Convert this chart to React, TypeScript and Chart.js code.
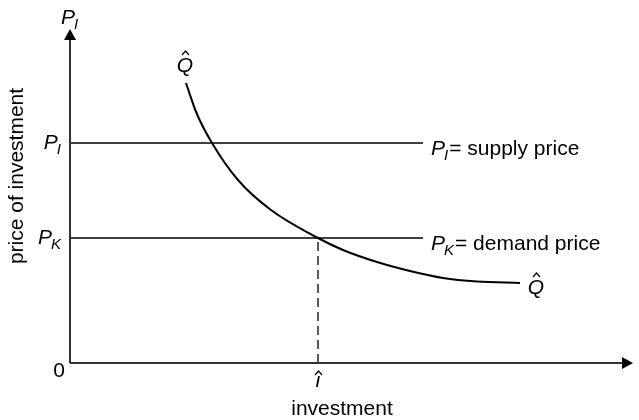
import React, { useEffect, useRef } from "react";
import { Chart, registerables } from "chart.js";

Chart.register(...registerables);

// Curve Q̂ (investment, price) in diagram units
const curveX = [116, 126.5, 142, 168, 201, 248, 273, 307, 340, 373, 407, 450];
const curveY = [280, 250, 220, 183, 153, 125, 113, 101, 92, 85, 81.5, 80];

// Horizontal price levels
const supplyPrice = 220; // P_I
const demandPrice = 125; // P_K
const priceLineEnd = 353;
const investmentHat = 248; // î

const xMax = 563;
const yMax = 334;

const yTickLabels = [
  { main: "P", sub: "I", value: supplyPrice },
  { main: "P", sub: "K", value: demandPrice },
  { main: "0", sub: "", value: 0 },
];
const lineLabels = [
  { main: "P", sub: "I", rest: "= supply price", value: supplyPrice },
  { main: "P", sub: "K", rest: "= demand price", value: demandPrice },
];
const xAxisTitle = "investment";
const yAxisTitle = "price of investment";

const FONT = "'Liberation Sans', Arial, Helvetica, sans-serif";

const diagramPlugin = {
  id: "diagram",
  afterDatasetsDraw(chart: any) {
    const ctx = chart.ctx as CanvasRenderingContext2D;
    const xs = chart.scales.x;
    const ys = chart.scales.y;
    const x0 = xs.getPixelForValue(0);
    const y0 = ys.getPixelForValue(0);
    const xEnd = xs.getPixelForValue(xMax);
    const yEnd = ys.getPixelForValue(yMax);
    ctx.save();
    // axes
    ctx.strokeStyle = "#333";
    ctx.fillStyle = "#000";
    ctx.lineWidth = 2;
    ctx.beginPath();
    ctx.moveTo(x0, y0);
    ctx.lineTo(x0, yEnd + 8);
    ctx.moveTo(x0, y0);
    ctx.lineTo(xEnd - 8, y0);
    ctx.stroke();
    ctx.beginPath();
    ctx.moveTo(x0, yEnd);
    ctx.lineTo(x0 - 6, yEnd + 11);
    ctx.lineTo(x0 + 6, yEnd + 11);
    ctx.closePath();
    ctx.fill();
    ctx.beginPath();
    ctx.moveTo(xEnd, y0);
    ctx.lineTo(xEnd - 11, y0 - 6);
    ctx.lineTo(xEnd - 11, y0 + 6);
    ctx.closePath();
    ctx.fill();

    const italic = `italic 21px ${FONT}`;
    const italicSub = `italic 15px ${FONT}`;
    const normal = `21px ${FONT}`;
    ctx.fillStyle = "#000";
    ctx.textBaseline = "alphabetic";

    const drawPSub = (main: string, sub: string, x: number, baseline: number) => {
      ctx.font = italic;
      ctx.textAlign = "left";
      ctx.fillText(main, x, baseline);
      const w = ctx.measureText(main).width;
      ctx.font = italicSub;
      ctx.fillText(sub, x + w - 1, baseline + 5);
      return x + w - 1 + ctx.measureText(sub).width;
    };

    // y tick labels
    yTickLabels.forEach((t) => {
      const py = ys.getPixelForValue(t.value);
      if (t.sub) {
        ctx.font = italic;
        const w = ctx.measureText(t.main).width;
        ctx.font = italicSub;
        const ws = ctx.measureText(t.sub).width;
        const startX = x0 - 9 - w - ws + 1;
        drawPSub(t.main, t.sub, startX, py + 6);
      } else {
        ctx.font = normal;
        ctx.textAlign = "right";
        ctx.fillText(t.main, x0 - 5, py + 14);
      }
    });

    // axis top label P_I
    drawPSub("P", "I", x0 - 9, yEnd - 5);

    // line labels
    lineLabels.forEach((l) => {
      const py = ys.getPixelForValue(l.value);
      const px = xs.getPixelForValue(priceLineEnd) + 8;
      const end = drawPSub(l.main, l.sub, px, py + 12);
      ctx.font = normal;
      ctx.textAlign = "left";
      ctx.fillText(l.rest, end + 1, py + 12);
    });

    // Q hat labels
    const drawQHat = (cx: number, baseline: number) => {
      ctx.font = italic;
      ctx.textAlign = "center";
      ctx.fillText("Q", cx, baseline);
      ctx.lineWidth = 1.2;
      ctx.strokeStyle = "#000";
      ctx.beginPath();
      ctx.moveTo(cx - 3, baseline - 17);
      ctx.lineTo(cx + 0.5, baseline - 21);
      ctx.lineTo(cx + 4, baseline - 17);
      ctx.stroke();
    };
    drawQHat(xs.getPixelForValue(curveX[0]) - 1, ys.getPixelForValue(curveY[0]) - 11);
    drawQHat(
      xs.getPixelForValue(curveX[curveX.length - 1]) + 16,
      ys.getPixelForValue(curveY[curveY.length - 1]) + 11
    );

    // i hat
    const ix = xs.getPixelForValue(investmentHat);
    ctx.font = italic;
    ctx.textAlign = "center";
    ctx.fillText("ı", ix, y0 + 24);
    ctx.lineWidth = 1.2;
    ctx.beginPath();
    ctx.moveTo(ix - 3, y0 + 12);
    ctx.lineTo(ix + 0.5, y0 + 8);
    ctx.lineTo(ix + 4, y0 + 12);
    ctx.stroke();

    // axis titles
    ctx.font = normal;
    ctx.textAlign = "center";
    ctx.fillText(xAxisTitle, ix + 24, y0 + 52);
    ctx.save();
    ctx.translate(23, (ys.getPixelForValue(yMax) + y0) / 2 - 20);
    ctx.rotate(-Math.PI / 2);
    ctx.fillText(yAxisTitle, 0, 0);
    ctx.restore();

    ctx.restore();
  },
};

export default function App() {
  const ref = useRef<HTMLCanvasElement | null>(null);
  useEffect(() => {
    if (!ref.current) return;
    const chart = new Chart(ref.current, {
      type: "line",
      data: {
        datasets: [
          {
            data: curveX.map((x, i) => ({ x, y: curveY[i] })),
            borderColor: "#000",
            borderWidth: 2,
            pointRadius: 0,
            cubicInterpolationMode: "monotone",
          },
          {
            data: [
              { x: 0, y: supplyPrice },
              { x: priceLineEnd, y: supplyPrice },
            ],
            borderColor: "#000",
            borderWidth: 1.3,
            pointRadius: 0,
          },
          {
            data: [
              { x: 0, y: demandPrice },
              { x: priceLineEnd, y: demandPrice },
            ],
            borderColor: "#000",
            borderWidth: 1.3,
            pointRadius: 0,
          },
          {
            data: [
              { x: investmentHat, y: 0 },
              { x: investmentHat, y: demandPrice },
            ],
            borderColor: "#000",
            borderWidth: 1.3,
            borderDash: [9, 5],
            pointRadius: 0,
          },
        ],
      },
      options: {
        animation: false,
        responsive: false,
        maintainAspectRatio: false,
        layout: { padding: { left: 70, right: 6, top: 29, bottom: 57 } },
        plugins: { legend: { display: false }, tooltip: { enabled: false } },
        scales: {
          x: { type: "linear", min: 0, max: xMax, display: false },
          y: { type: "linear", min: 0, max: yMax, display: false },
        },
      },
      plugins: [diagramPlugin],
    } as any);
    return () => chart.destroy();
  }, []);
  return (
    <div style={{ position: "fixed", left: 0, top: 0, width: 639, height: 420, background: "#fff" }}>
      <canvas ref={ref} width={639} height={420} style={{ display: "block" }} />
    </div>
  );
}
